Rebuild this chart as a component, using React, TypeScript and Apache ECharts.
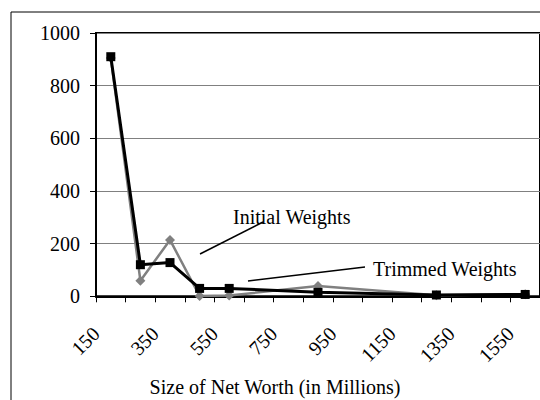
import React, { useEffect, useRef } from "react";
import * as echarts from "echarts";

const netWorth = [200, 300, 400, 500, 600, 900, 1300, 1600];
const initialWeights = [905, 59, 214, 1, 3, 39, 4, 8];
const trimmedWeights = [910, 120, 128, 30, 30, 15, 5, 7];
const xAxisTitle = "Size of Net Worth (in Millions)";
const initialLabel = "Initial Weights";
const trimmedLabel = "Trimmed Weights";

const FONT = "Liberation Serif, DejaVu Serif, serif";

export default function App() {
  const ref = useRef<HTMLDivElement>(null);
  useEffect(() => {
    if (!ref.current) return;
    const chart = echarts.init(ref.current, null, { renderer: "svg" });
    const initialData = netWorth.map((x, i) => [x, initialWeights[i]]);
    const trimmedData = netWorth.map((x, i) => [x, trimmedWeights[i]]);
    const txt = (text: string, x: number, y: number, align: string) => ({
      type: "text",
      x,
      y,
      z: 10,
      style: {
        text,
        font: `20px ${FONT}`,
        fill: "#000",
        align,
        verticalAlign: "bottom",
      },
    });
    chart.setOption({
      animation: false,
      backgroundColor: "#fff",
      textStyle: { fontFamily: FONT },
      grid: {
        left: 96,
        top: 33,
        width: 457.5,
        height: 263.3,
        show: true,
        borderColor: "#000",
        borderWidth: 2,
        backgroundColor: "transparent",
      },
      xAxis: {
        type: "value",
        min: 150,
        max: 1650,
        interval: 100,
        axisLine: { show: true, onZero: false, lineStyle: { color: "#000", width: 2 } },
        axisTick: { show: true, length: 6, lineStyle: { color: "#000", width: 1 } },
        splitLine: { show: false },
        axisLabel: {
          rotate: 45,
          margin: 34,
          fontSize: 20,
          color: "#000",
          fontFamily: FONT,
          showMaxLabel: false,
          formatter: (v: number) => ((v - 150) % 200 === 0 ? String(v) : ""),
        },
      },
      yAxis: {
        type: "value",
        min: 0,
        max: 1000,
        interval: 200,
        axisLine: { show: true, lineStyle: { color: "#000", width: 2 } },
        axisTick: { show: true, length: 6, lineStyle: { color: "#000", width: 1 } },
        splitLine: { show: true, lineStyle: { color: "#808080", width: 1 } },
        axisLabel: {
          fontSize: 20,
          color: "#000",
          margin: 16,
          fontFamily: FONT,
          formatter: (v: number) => String(v),
        },
      },
      series: [
        {
          name: initialLabel,
          type: "line",
          data: initialData,
          symbol: "diamond",
          symbolSize: 10,
          lineStyle: { color: "#808080", width: 2.5 },
          itemStyle: { color: "#808080" },
          z: 2,
        },
        {
          name: trimmedLabel,
          type: "line",
          data: trimmedData,
          symbol: "rect",
          symbolSize: 9,
          lineStyle: { color: "#000", width: 3 },
          itemStyle: { color: "#000" },
          z: 3,
        },
      ],
      graphic: [
        {
          type: "rect",
          shape: { x: 11, y: 12, width: 560, height: 420 },
          style: { fill: "none", stroke: "#000", lineWidth: 1 },
          z: 0,
          silent: true,
        },
        txt(xAxisTitle, 275, 397, "center"),
        txt(initialLabel, 233, 227, "left"),
        {
          type: "line",
          shape: { x1: 200, y1: 254, x2: 263, y2: 222 },
          style: { stroke: "#000", lineWidth: 1.5 },
          z: 10,
        },
        txt(trimmedLabel, 373, 279, "left"),
        {
          type: "line",
          shape: { x1: 248, y1: 281, x2: 365, y2: 267 },
          style: { stroke: "#000", lineWidth: 1.5 },
          z: 10,
        },
      ],
    });
    return () => chart.dispose();
  }, []);
  return (
    <div
      ref={ref}
      style={{ position: "fixed", left: 0, top: 0, width: 540, height: 400 }}
    />
  );
}
